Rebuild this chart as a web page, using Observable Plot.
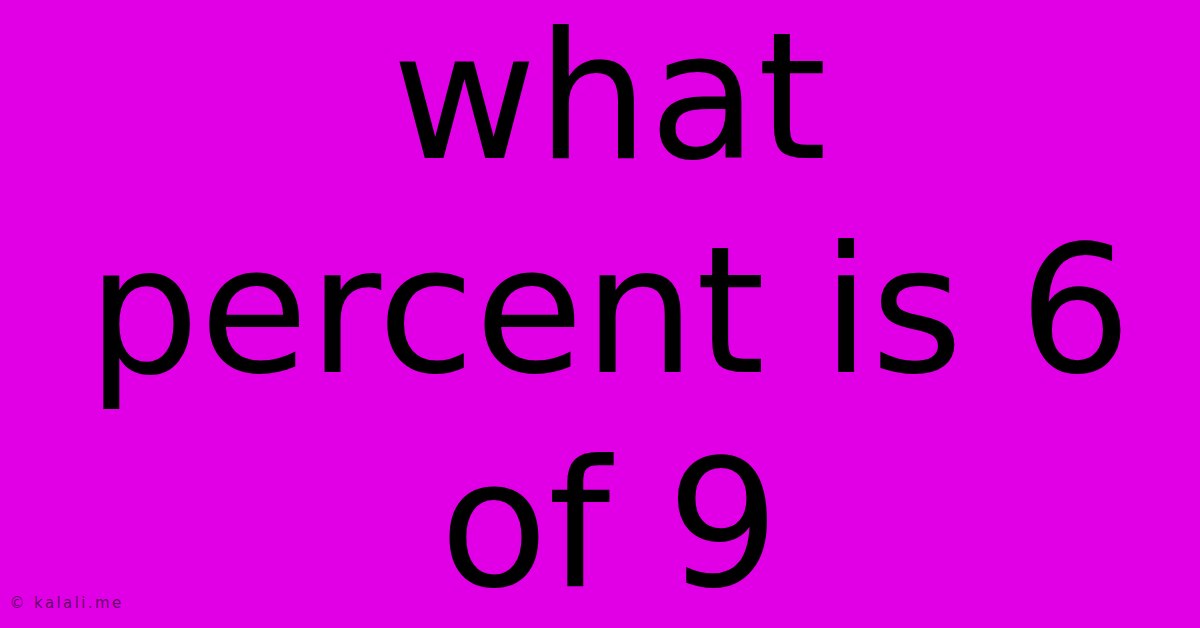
<!DOCTYPE html>
<html>
<head>
<meta charset="utf-8">
<script src="https://cdn.jsdelivr.net/npm/d3@7"></script>
<script src="https://cdn.jsdelivr.net/npm/@observablehq/plot@0.6"></script>
<style>
  html, body { margin: 0; padding: 0; background: #e100e6; }
  #chart { width: 1200px; height: 628px; overflow: hidden; }
</style>
</head>
<body>
<div id="chart"></div>
<script>
const titleLines = ["what", "percent is 6", "of 9"];
const lineIndex = [0, 1, 2];
const watermark = ["© kalali.me"];

const rows = titleLines.map((t, i) => ({ text: t, row: lineIndex[i] }));

const chart = Plot.plot({
  width: 1200,
  height: 628,
  margin: 0,
  style: { background: "#e100e6", fontFamily: "DejaVu Sans", overflow: "visible" },
  x: { axis: null, domain: [0, 1], range: [0, 1200] },
  y: { axis: null, domain: [0, 2], range: [157, 585] },
  marks: [
    Plot.text(rows, {
      y: "row",
      text: "text",
      frameAnchor: "middle",
      textAnchor: "middle",
      lineAnchor: "bottom",
      dx: 9,
      fontSize: 177,
      fontFamily: "DejaVu Sans",
      fill: "#000000"
    }),
    Plot.text(watermark, {
      text: d => d,
      frameAnchor: "bottom-left",
      textAnchor: "start",
      lineAnchor: "bottom",
      dx: 9,
      dy: -21,
      fontSize: 15,
      fontFamily: "DejaVu Sans",
      fill: "#000000",
      fillOpacity: 0.6
    })
  ]
});
d3.select(chart).selectAll("text")
  .filter(function () { return this.textContent === watermark[0]; })
  .attr("letter-spacing", 2.4);
document.getElementById("chart").appendChild(chart);
</script>
</body>
</html>
